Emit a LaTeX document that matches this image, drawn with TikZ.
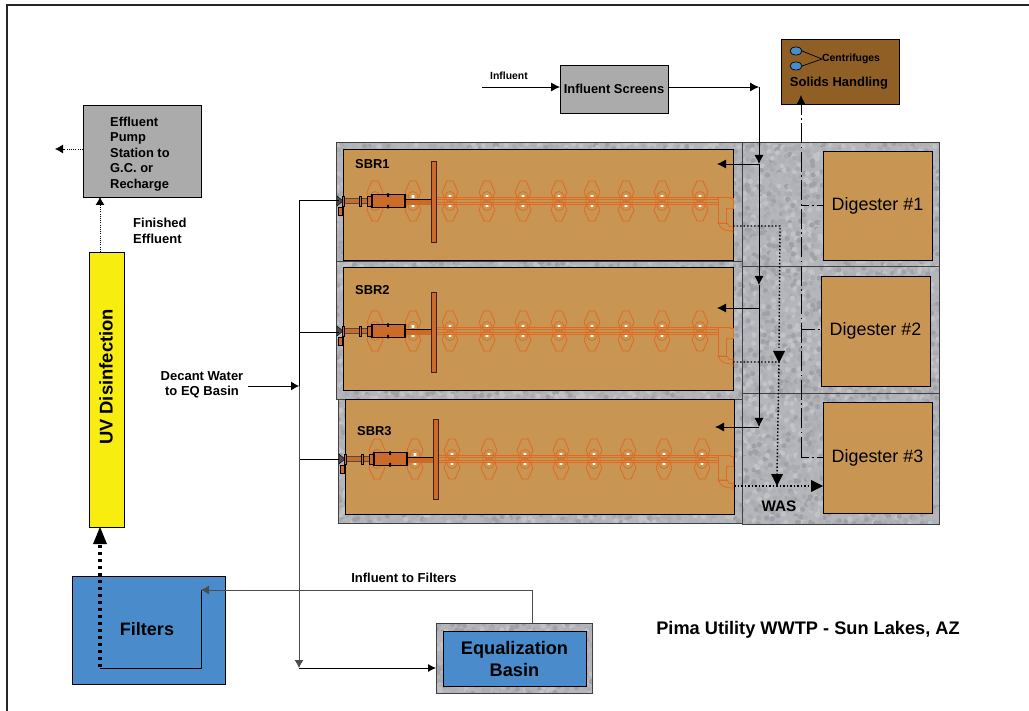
\documentclass[tikz,border=0pt]{standalone}
\usepackage{fontspec}
\setmainfont{Liberation Sans}
\usetikzlibrary{arrows.meta,calc,shapes.geometric}
\definecolor{tan}{HTML}{C99552}
\definecolor{orng}{HTML}{CC6A2A}
\definecolor{lorng}{HTML}{DE6A24}
\definecolor{blu}{HTML}{4A8CCB}
\definecolor{brn}{HTML}{8F5F25}
\definecolor{grybx}{HTML}{ABABAB}
\definecolor{yel}{HTML}{F7EE10}
\definecolor{cA}{HTML}{ABACB1}
\definecolor{cB}{HTML}{B5B6BB}
\definecolor{cC}{HTML}{C2C3C7}
\definecolor{cD}{HTML}{A0A1A7}
\definecolor{cE}{HTML}{B0B1B6}
\tikzset{
  x=1pt,y=-1pt,
  flow/.style={draw=black,line width=0.8pt},
  tip/.style={-{Latex[length=9pt,width=9pt]}},
  smalltip/.style={-{Latex[length=8pt,width=9pt]}},
  wasline/.style={draw=black,line width=1.4pt,dash pattern=on 1.5pt off 2pt},
  solline/.style={draw=black,line width=0.9pt,dash pattern=on 20pt off 3.5pt on 1.5pt off 3.5pt},
  solbranch/.style={draw=black,line width=0.9pt,dash pattern=on 8pt off 3pt on 1.5pt off 3pt},
  fedline/.style={draw=black,line width=3.6pt,dash pattern=on 3.5pt off 3.5pt},
  finline/.style={draw=black,line width=0.8pt,dash pattern=on 1pt off 1.2pt},
  boxnode/.style={draw=black,line width=0.9pt,inner sep=0pt,outer sep=0pt},
  tankbox/.style={boxnode,fill=tan},
  bluebox/.style={boxnode,fill=blu},
  digbox/.style={tankbox,font=\fontsize{17.9}{20}\selectfont},
  lbl/.style={font=\bfseries\fontsize{13}{15.5}\selectfont,inner sep=0pt,align=center,text=black},
  sbrlbl/.style={lbl,anchor=west,font=\bfseries\fontsize{12.9}{15}\selectfont},
  pipeline/.style={draw=lorng,line width=0.8pt},
  centri/.style={draw=black,fill=blu,ellipse,line width=0.7pt,inner sep=0pt,outer sep=0pt,minimum width=12pt,minimum height=8pt},
}
\newcommand{\rectnode}[7][]{% style name x1 y1 x2 y2 text
  \pgfmathsetmacro{\rcx}{(#3+#5)/2}\pgfmathsetmacro{\rcy}{(#4+#6)/2}
  \pgfmathsetmacro{\rw}{#5-#3}\pgfmathsetmacro{\rh}{#6-#4}
  \node[#1,minimum width=\rw pt,minimum height=\rh pt] (#2) at (\rcx,\rcy) {#7};
}
\newcommand{\concrete}[4]{%
  \begin{scope}
    \clip (#1,#2) rectangle (#3,#4);
    \fill[cB] (#1,#2) rectangle (#3,#4);
    \pgfmathsetmacro{\csx}{#1+5}\pgfmathsetmacro{\csy}{#2+5}
    \foreach \gx in {#1,\csx,...,#3} \foreach \gy in {#2,\csy,...,#4} {
      \pgfmathrandominteger{\pick}{1}{5}
      \pgfmathsetmacro{\jx}{\gx+rnd*5}\pgfmathsetmacro{\jy}{\gy+rnd*5}
      \ifcase\pick\or\def\cc{cA}\or\def\cc{cB}\or\def\cc{cC}\or\def\cc{cD}\or\def\cc{cE}\fi
      \fill[\cc] (\jx,\jy) circle[radius=2.6pt];
    }
  \end{scope}
}
\newcommand{\aer}[2]{% x, yc
  \begin{scope}[shift={(#1,#2)}]
    \draw[pipeline,line width=0.8pt] (-3,-20)--(3,-20)--(8,-9)--(6,-4)--(6,4)--(8,9)--(3,20)--(-3,20)--(-8,9)--(-6,4)--(-6,-4)--(-8,-9)--cycle;
    \draw[pipeline,line width=0.7pt] (0,-4.5) circle[radius=5pt] (0,4.5) circle[radius=5pt];
    \fill[white] (-1.4,-5.9) rectangle (1.4,-3.1) (-1.4,3.1) rectangle (1.4,5.9);
  \end{scope}
}
\newcommand{\train}[6]{% dx yc baffleTop baffleBot elbowEnd elbowDx
  \foreach \ax in {413,450,487,523,559,592,626,662,700} {\pgfmathsetmacro{\axx}{\ax+#1}\aer{\axx}{#2}}
  \pgfmathsetmacro{\axx}{375+#1}\aer{\axx}{#2}
  \begin{scope}[shift={(#1,#2)}]
    \draw[pipeline] (436,-3.5)--(720,-3.5) (436,-1.2)--(720,-1.2) (436,1.2)--(720,1.2) (436,3.5)--(720,3.5);
    \fill[orng] (345,-2.5) rectangle (372,2.5);
    \draw[black!70,line width=0.5pt] (345,-2.5)--(372,-2.5) (345,2.5)--(372,2.5);
    \draw[fill=orng,line width=0.5pt] (359,-5) rectangle (361.5,5);
    \draw[fill=orng,line width=0.5pt] (367,-5) rectangle (371,5);
    \draw[fill=black!70,line width=0.4pt] (337,-5) -- (343,0) -- (337,5) -- cycle;
    \draw[fill=orng,line width=0.4pt] (342,-5) rectangle (344.5,5);
    \draw[fill=orng,line width=0.4pt] (338,6) rectangle (342,14);
    \fill[orng] (405,-2) rectangle (431,4);
    \draw[black,line width=0.9pt] (405,-2)--(431,-2);
    \draw[black,line width=1.3pt,fill=orng] (372,-6.5) rectangle (405,6.5);
    \fill[black] (387,-7.5) rectangle (389,-4) (387,4) rectangle (389,7.5);
  \end{scope}
  \pgfmathsetmacro{\bx}{431+#1}\pgfmathsetmacro{\bxx}{436+#1}
  \draw[fill=orng,draw=black!70!orng,line width=0.9pt] (\bx,#3) rectangle (\bxx,#4);
  % decant elbow
  \begin{scope}[shift={(#6,#2)}]
    \draw[pipeline,fill=tan] (718,-4)--(730,-4)--(730,-3)--(733,-3)--(733,7)--(730,7)--(726,7)--(726,#5)--(718,#5)--cycle;
    \draw[pipeline] (717,#5)--(727,#5) (719,#5) .. controls (719,#5+5) and (724,#5+8) .. (733,#5+8) (727,#5) .. controls (727,#5+3) and (730,#5+4) .. (733,#5+4) (733,#5+2)--(733,#5+11);
  \end{scope}
}
\pgfmathsetseed{4242}
\begin{document}
\begin{tikzpicture}
\useasboundingbox (0,0) rectangle (1029,711);
\fill[white] (0,0) rectangle (1029,711);
% frame
\coordinate (fTL) at (7,5); \coordinate (fTR) at (1029,5); \coordinate (fBL) at (7,711);
\draw[draw=black!85,line width=2.5pt] (fTR)--(fTL)--(fBL);

% concrete: only the strips that stay visible round the tanks
\concrete{336}{143}{742}{149}
\concrete{336}{149}{343}{400}
\concrete{733}{143}{742}{523}
\concrete{336}{260}{733}{267}
\concrete{336}{390}{733}{399}
\concrete{338}{400}{345}{523}
\concrete{338}{514}{742}{523}
\concrete{742}{143}{823}{524}
\concrete{930}{143}{939}{524}
\concrete{823}{143}{930}{151}
\concrete{823}{260}{930}{276}
\concrete{823}{386}{930}{402}
\concrete{823}{513}{930}{524}
\concrete{436}{623}{592}{631}
\concrete{436}{686}{592}{693}
\concrete{436}{631}{443}{686}
\concrete{586}{631}{592}{686}
\draw[black!75,line width=1pt] (336,143) rectangle (742,262);
\draw[black!75,line width=1pt] (336,262) rectangle (742,400);
\draw[black!75,line width=1pt] (338,400) rectangle (742,523);
\draw[black!75,line width=1pt] (742,143) rectangle (939,267);
\draw[black!75,line width=1pt] (742,267) rectangle (939,394);
\draw[black!75,line width=1pt] (742,394) rectangle (939,524);

% tanks
\rectnode[tankbox]{sbrone}{343}{149}{733}{260}{}
\rectnode[tankbox]{sbrtwo}{343}{267}{733}{390}{}
\rectnode[tankbox]{sbrthree}{345}{399}{734}{514}{}
\rectnode[digbox]{digone}{823}{151}{932}{260}{\raisebox{-3.5pt}{Digester \#1}}
\rectnode[digbox]{digtwo}{821}{276}{930}{386}{\raisebox{-3.5pt}{Digester \#2}}
\rectnode[digbox]{digthree}{823}{402}{932}{513}{\raisebox{-3.5pt}{Digester \#3}}
\node[sbrlbl] (lone) at (355,164) {SBR1};
\node[sbrlbl] (ltwo) at (355,290) {SBR2};
\node[sbrlbl] (lthree) at (357,431) {SBR3};

% trains
\train{0}{201}{161}{242}{22}{0}
\train{0}{331}{292}{372}{25}{0}
\train{2}{459}{419}{499}{21}{0}

% other boxes
\rectnode[boxnode,fill=grybx,font=\bfseries\fontsize{12.9}{15}\selectfont]{screens}{560}{65}{668}{113}{\raisebox{-1pt}{Influent Screens}}
\rectnode[boxnode,fill=brn]{solids}{781}{39}{899}{104}{}
\rectnode[boxnode,fill=grybx]{eff}{83}{105}{201}{197}{}
\node[lbl,anchor=west,align=left,font=\bfseries\fontsize{12.9}{15.6}\selectfont] (efftxt) at (110,154) {Effluent\\Pump\\Station to\\G.C. or\\Recharge};
\rectnode[boxnode,fill=yel]{uv}{89}{252}{124}{527}{}
\node[lbl,rotate=90,font=\bfseries\fontsize{18.4}{20}\selectfont] (uvtxt) at (106,377) {UV Disinfection};
\rectnode[bluebox]{filters}{72}{576}{225}{684}{}
\node[lbl,font=\bfseries\fontsize{18}{20}\selectfont] (filtxt) at (147,629) {Filters};
\draw[black!75,line width=1pt] (436,623) rectangle (592,693);
\rectnode[bluebox,align=center,font=\bfseries\fontsize{18.2}{22}\selectfont]{eq}{443}{631}{586}{686}{Equalization\\Basin}
% centrifuges
\node[centri] (cone) at (796,51) {};
\node[centri] (ctwo) at (796,66) {};
\node[lbl,anchor=west,font=\bfseries\fontsize{10.4}{12}\selectfont] (ctxt) at (822,59) {Centrifuges};
\draw[flow,line width=0.7pt] (cone.east)--(ctxt.west)--(ctwo.east);
\node[lbl,font=\bfseries\fontsize{13}{15}\selectfont] (soltxt) at (839,83) {Solids Handling};

% labels
\node[lbl,font=\bfseries\fontsize{10.4}{12}\selectfont] (inftxt) at (509,76) {Influent};
\node[lbl,align=left,anchor=west] (fintxt) at (133,231) {Finished\\Effluent};
\node[lbl] (dectxt) at (202,385) {Decant Water\\to EQ Basin};
\node[lbl] (intf) at (404,578) {Influent to Filters};
\node[lbl,font=\bfseries\fontsize{15.3}{18}\selectfont] (was) at (779,506) {WAS};
\node[lbl,font=\bfseries\fontsize{18.2}{20}\selectfont] (title) at (808,630) {Pima Utility WWTP - Sun Lakes, AZ};

% influent
\coordinate (infS) at (482,87);
\coordinate (sT) at (759,87);
\coordinate (aA) at (759,164); \coordinate (aB) at (759,285);
\coordinate (aC) at (759,308); \coordinate (aD) at (759,427);
\coordinate (fA) at (717,164); \coordinate (fB) at (717,308); \coordinate (fC) at (715,427);
\draw[flow,tip] (infS)--(screens.west |- infS);
\draw[flow,tip] (screens.east |- sT)--(sT);
\draw[flow,tip] (sT)--(aA);
\draw[flow,tip] (aA)--(aB);
\draw[flow] (aB)--(aC);
\draw[flow,tip] (aC)--(aD);
\draw[flow,tip] (aA)--(fA);
\draw[flow,tip] (aC)--(fB);
\draw[flow,tip] (aD)--(fC);

% WAS
\coordinate (wS1) at (733,226); \coordinate (wC1) at (780,226);
\coordinate (wS2) at (733,362); \coordinate (wC2) at (779,362);
\coordinate (wS3) at (734,486); \coordinate (wC3) at (777,486);
\draw[wasline] (wS1)--(wC1)--(779,348);
\draw[wasline] (wS2)--(wC2)--(777,474);
\draw[wasline] (wS3)--(812,486);
\fill[black] (773,351)--(785,351)--(779,363)--cycle;
\fill[black] (771,474)--(783,474)--(777,486)--cycle;
\fill[black] (811,480)--(823,486)--(811,492)--cycle;

% solids
\coordinate (sB) at (801,457);
\coordinate (sD1) at (801,205); \coordinate (sD2) at (801,330);
\coordinate (sTop) at (801,95);
\draw[solline] (sB)--(801,108);
\draw[flow,line width=1pt,-{Latex[length=10pt,width=10pt]}] (801,112)--(sTop);
\draw[solbranch] (sB)--(digthree.west |- sB);
\draw[solbranch] (sD1)--(digone.west |- sD1);
\draw[flow,line width=1pt,dash pattern=on 14pt off 3pt on 1.5pt off 3pt] (sD2)--(digtwo.west |- sD2);

% effluent side
\coordinate (uvT) at (100,252); \coordinate (effB) at (100,197);
\coordinate (effL) at (55,149);
\draw[finline,smalltip] (uvT)--(effB);
\draw[finline,smalltip] (eff.west |- effL)--(effL);
\coordinate (fT) at (100,667); \coordinate (fU) at (100,527);
\draw[fedline] (fT)--(100,544);
\fill[black] (93,544)--(107,544)--(100,527)--cycle;
\coordinate (fR) at (201,668); \coordinate (fE) at (201,590);
\coordinate (eE) at (532,590); \coordinate (eS) at (532,623);
\draw[flow] (fT |- fR)--(fR)--(fE);
\draw[flow,black!70,-{Latex[length=8pt,width=9pt]}] (eS)--(eE)--(fE);

% decant
\coordinate (dTop) at (299,200); \coordinate (dA) at (299,332); \coordinate (dM) at (299,386);
\coordinate (dB) at (299,459); \coordinate (dEnd) at (299,668);
\coordinate (dLbl) at (248,386);
\coordinate (dAe) at (339,200); \coordinate (dBe) at (339,332); \coordinate (dCe) at (339,459);
\coordinate (eqIn) at (436,668);
\draw[flow] (dAe)--(dTop)--(dM);
\draw[flow] (dA)--(dBe);
\draw[flow] (dB)--(dCe);
\draw[flow,black!70,-{Latex[length=8pt,width=9pt]}] (dM)--(dEnd);
\draw[flow,-{Latex[length=8pt,width=9pt]}] (dLbl)--(dM);
\draw[flow,-{Latex[length=8pt,width=8pt]}] (dEnd)--(eqIn);
\end{tikzpicture}
\end{document}
